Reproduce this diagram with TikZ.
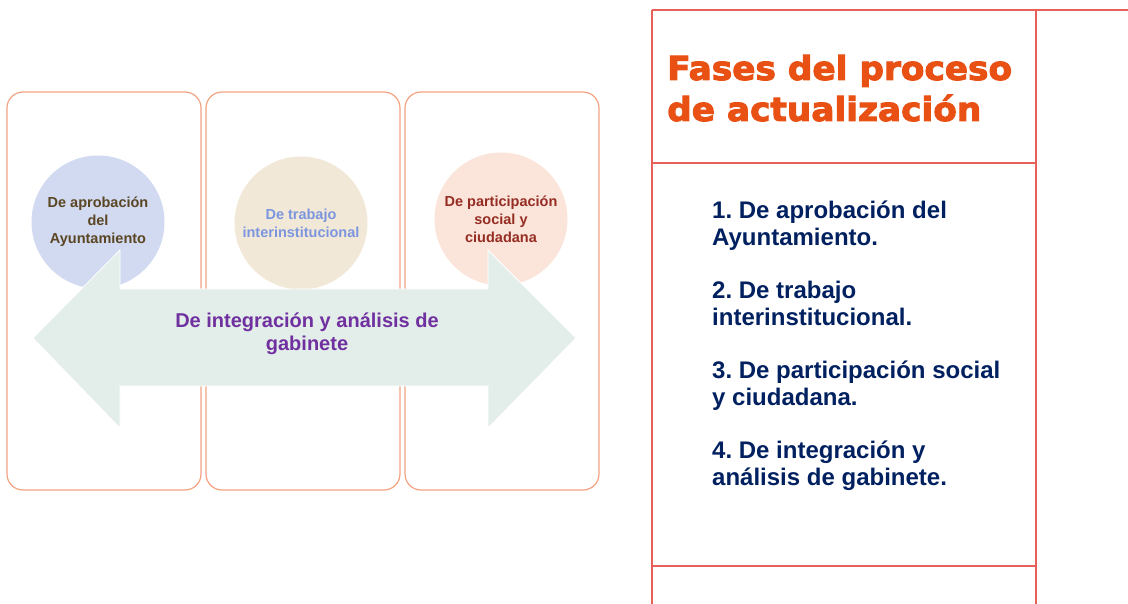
\documentclass[tikz,border=0pt]{standalone}
\usepackage{fontspec}
\setmainfont{Liberation Sans}
\newfontfamily\titlefont{DejaVu Sans}[BoldFeatures={FakeBold=3,FakeStretch=1.04}]
\definecolor{panelOrange}{RGB}{244,163,130}
\definecolor{frameRed}{RGB}{232,96,90}
\definecolor{circBlue}{RGB}{210,218,242}
\definecolor{circBeige}{RGB}{242,232,216}
\definecolor{circPink}{RGB}{251,228,218}
\definecolor{arrowMint}{RGB}{227,237,233}
\definecolor{textBrown}{RGB}{90,70,35}
\definecolor{textCorn}{RGB}{124,150,222}
\definecolor{textRust}{RGB}{150,45,35}
\definecolor{textPurple}{RGB}{112,48,160}
\definecolor{titleOrange}{RGB}{232,80,20}
\definecolor{listNavy}{RGB}{0,32,96}
\usetikzlibrary{positioning}
\frenchspacing

\begin{document}
\begin{tikzpicture}[x=1pt,y=-1pt,
                panel/.style={draw=panelOrange,line width=1.2pt,rounded corners=16pt,
                             minimum width=194pt,minimum height=398pt},
                phase/.style={circle,minimum size=133pt,inner sep=0pt,align=center,
                             font=\fontsize{14.5}{18}\selectfont\bfseries},
                frame/.style={draw=frameRed,line width=1.6pt}
            ]
                \useasboundingbox (0,0) rectangle (1128,604);
                % three phase panels
                \node[panel] (p1) at (104,291) {};
                \node[panel] (p2) at (303,291) {};
                \node[panel] (p3) at (502,291) {};
                
                \node[phase,fill=circBlue,text=textBrown] (c1) at (98,222) {De aprobación\\del\\Ayuntamiento};
                \node[phase,fill=circBeige,text=textCorn] (c2) at (301,223) {De trabajo\\interinstitucional};
                \node[phase,fill=circPink,text=textRust] (c3) at (501,219) {De participación\\social y\\ciudadana};
                
                % double arrow across the panels
                \filldraw[fill=arrowMint,draw=white,line width=0.8pt]
                    (33,338) -- (120,250) -- (120,289) -- (488,289) -- (488,250) -- (576,338)
                    -- (488,428) -- (488,386) -- (120,386) -- (120,428) -- cycle;
                \node[font=\fontsize{20}{23}\selectfont\bfseries,text=textPurple,align=center] (integ) at (307,334) {De integración y análisis de\\gabinete};
                
                % side frame
                \draw[frame] (652,10) -- (652,604);
                \draw[frame] (1036,10) -- (1036,604);
                \draw[frame] (652,10) -- (1128,10);
                \draw[frame] (652,163) -- (1036,163);
                \draw[frame] (652,566) -- (1036,566);
                
                % base anchor sits on the last line
                \node[anchor=base west,inner sep=0pt,align=left,text=titleOrange,
                      font=\titlefont\bfseries\fontsize{33}{41}\selectfont] (title) at (667,121) {Fases del proceso\\de actualización};
                \node[anchor=base west,inner sep=0pt,align=left,text=listNavy,
                      font=\bfseries\fontsize{24}{26.5}\selectfont] (list) at (712,485)
                    {1. De aprobación del\\Ayuntamiento.\\[27pt]2. De trabajo\\interinstitucional.\\[27pt]3. De participación social\\y ciudadana.\\[27pt]4. De integración y\\análisis de gabinete.};
            \end{tikzpicture}
\end{document}
